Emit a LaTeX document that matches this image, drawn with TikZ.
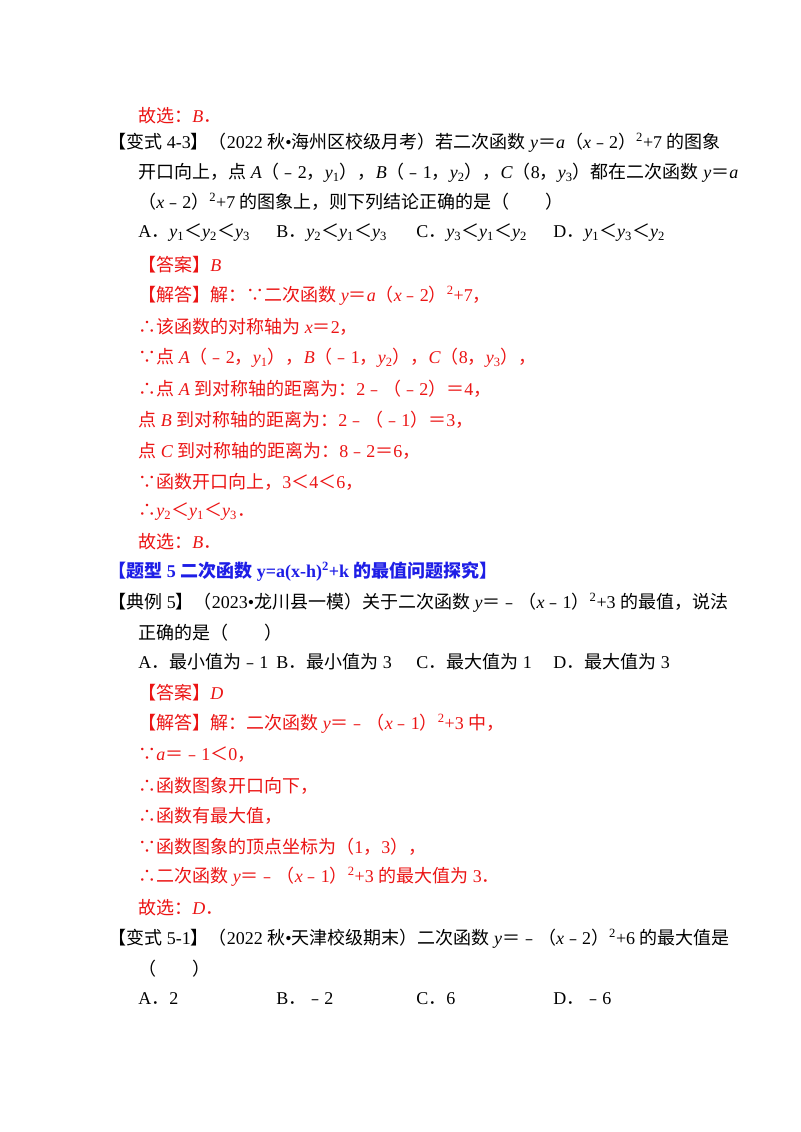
\documentclass[tikz,border=0pt]{standalone}
\usepackage{fontspec}
\setmainfont{Liberation Serif}
\newfontfamily\cjk{Noto Sans CJK SC}
\newfontfamily\lat{Liberation Serif}
\XeTeXinterchartokenstate=1
\newXeTeXintercharclass\cjkclass
\makeatletter
\def\setcls#1#2{\count@=#1\relax\loop\XeTeXcharclass\count@=\cjkclass\ifnum\count@<#2\relax\advance\count@ 1\repeat}
\makeatother
\setcls{"4E00}{"9FFF}
\setcls{"3000}{"303F}
\setcls{"FF00}{"FFEF}
\setcls{"FE50}{"FE6F}
\setcls{"2234}{"2235}
\XeTeXinterchartoks 0 \cjkclass = {\cjk}
\XeTeXinterchartoks 4095 \cjkclass = {\cjk}
\XeTeXinterchartoks \cjkclass 0 = {\lat}
\XeTeXinterchartoks \cjkclass 4095 = {\lat}
\definecolor{ans}{RGB}{235,20,20}
\definecolor{hd}{RGB}{30,30,230}
\newcommand\yy[1]{\textit{y}\textsubscript{#1}}
\newcommand\sq{\textsuperscript{2}}
\begin{document}
\begin{tikzpicture}[x=0.75pt,y=-0.75pt,
  t/.style={anchor=west,inner sep=0pt,font=\fontsize{13.5}{16}\selectfont},
  r/.style={t,text=ans}]
\useasboundingbox (0,0) rectangle (800,1132);
\node[r] (l1) at (138,116) {故选：\textit{B}．};
\node[t] (l2) at (108,143) {【变式 4-3】（2022 秋•海州区校级月考）若二次函数 \textit{y}＝\textit{a}（\textit{x}﹣2）\sq+7 的图象};
\node[t] (l3) at (138,173) {开口向上，点 \textit{A}（﹣2，\yy1），\textit{B}（﹣1，\yy2），\textit{C}（8，\yy3）都在二次函数 \textit{y}＝\textit{a}};
\node[t] (l4) at (138,202) {（\textit{x}﹣2）\sq+7 的图象上，则下列结论正确的是（\quad\quad）};
\node[t] (l5a) at (138,233) {A．\yy1＜\yy2＜\yy3};
\node[t] (l5b) at (276,233) {B．\yy2＜\yy1＜\yy3};
\node[t] (l5c) at (416,233) {C．\yy3＜\yy1＜\yy2};
\node[t] (l5d) at (553,233) {D．\yy1＜\yy3＜\yy2};
\node[r] (l6) at (138,265) {【答案】\textit{B}};
\node[r] (l7) at (138,296) {【解答】解：∵二次函数 \textit{y}＝\textit{a}（\textit{x}﹣2）\sq+7，};
\node[r] (l8) at (138,327) {∴该函数的对称轴为 \textit{x}＝2，};
\node[r] (l9) at (138,358) {∵点 \textit{A}（﹣2，\yy1），\textit{B}（﹣1，\yy2），\textit{C}（8，\yy3），};
\node[r] (l10) at (138,389) {∴点 \textit{A} 到对称轴的距离为：2﹣（﹣2）＝4，};
\node[r] (l11) at (138,420) {点 \textit{B} 到对称轴的距离为：2﹣（﹣1）＝3，};
\node[r] (l12) at (138,451) {点 \textit{C} 到对称轴的距离为：8﹣2＝6，};
\node[r] (l13) at (138,482) {∵函数开口向上，3＜4＜6，};
\node[r] (l14) at (138,512) {∴\yy2＜\yy1＜\yy3．};
\node[r] (l15) at (138,542) {故选：\textit{B}．};
\node[t,text=hd,font=\fontsize{13.5}{16}\selectfont\bfseries] (l16) at (108,572) {【题型 5 二次函数 y=a(x-h)\sq+k 的最值问题探究】};
\node[t] (l17) at (108,603) {【典例 5】（2023•龙川县一模）关于二次函数 \textit{y}＝﹣（\textit{x}﹣1）\sq+3 的最值，说法};
\node[t] (l18) at (138,633) {正确的是（\quad\quad）};
\node[t] (l19a) at (138,662) {A．最小值为﹣1};
\node[t] (l19b) at (276,662) {B．最小值为 3};
\node[t] (l19c) at (416,662) {C．最大值为 1};
\node[t] (l19d) at (553,662) {D．最大值为 3};
\node[r] (l20) at (138,693) {【答案】\textit{D}};
\node[r] (l21) at (138,724) {【解答】解：二次函数 \textit{y}＝﹣（\textit{x}﹣1）\sq+3 中，};
\node[r] (l22) at (138,755) {∵\textit{a}＝﹣1＜0，};
\node[r] (l23) at (138,786) {∴函数图象开口向下，};
\node[r] (l24) at (138,816) {∴函数有最大值，};
\node[r] (l25) at (138,847) {∵函数图象的顶点坐标为（1，3），};
\node[r] (l26) at (138,877) {∴二次函数 \textit{y}＝﹣（\textit{x}﹣1）\sq+3 的最大值为 3．};
\node[r] (l27) at (138,908) {故选：\textit{D}．};
\node[t] (l28) at (108,939) {【变式 5-1】（2022 秋•天津校级期末）二次函数 \textit{y}＝﹣（\textit{x}﹣2）\sq+6 的最大值是};
\node[t] (l29) at (138,969) {（\quad\quad）};
\node[t] (l30a) at (138,999) {A．2};
\node[t] (l30b) at (276,999) {B．﹣2};
\node[t] (l30c) at (416,999) {C．6};
\node[t] (l30d) at (553,999) {D．﹣6};
\end{tikzpicture}
\end{document}
